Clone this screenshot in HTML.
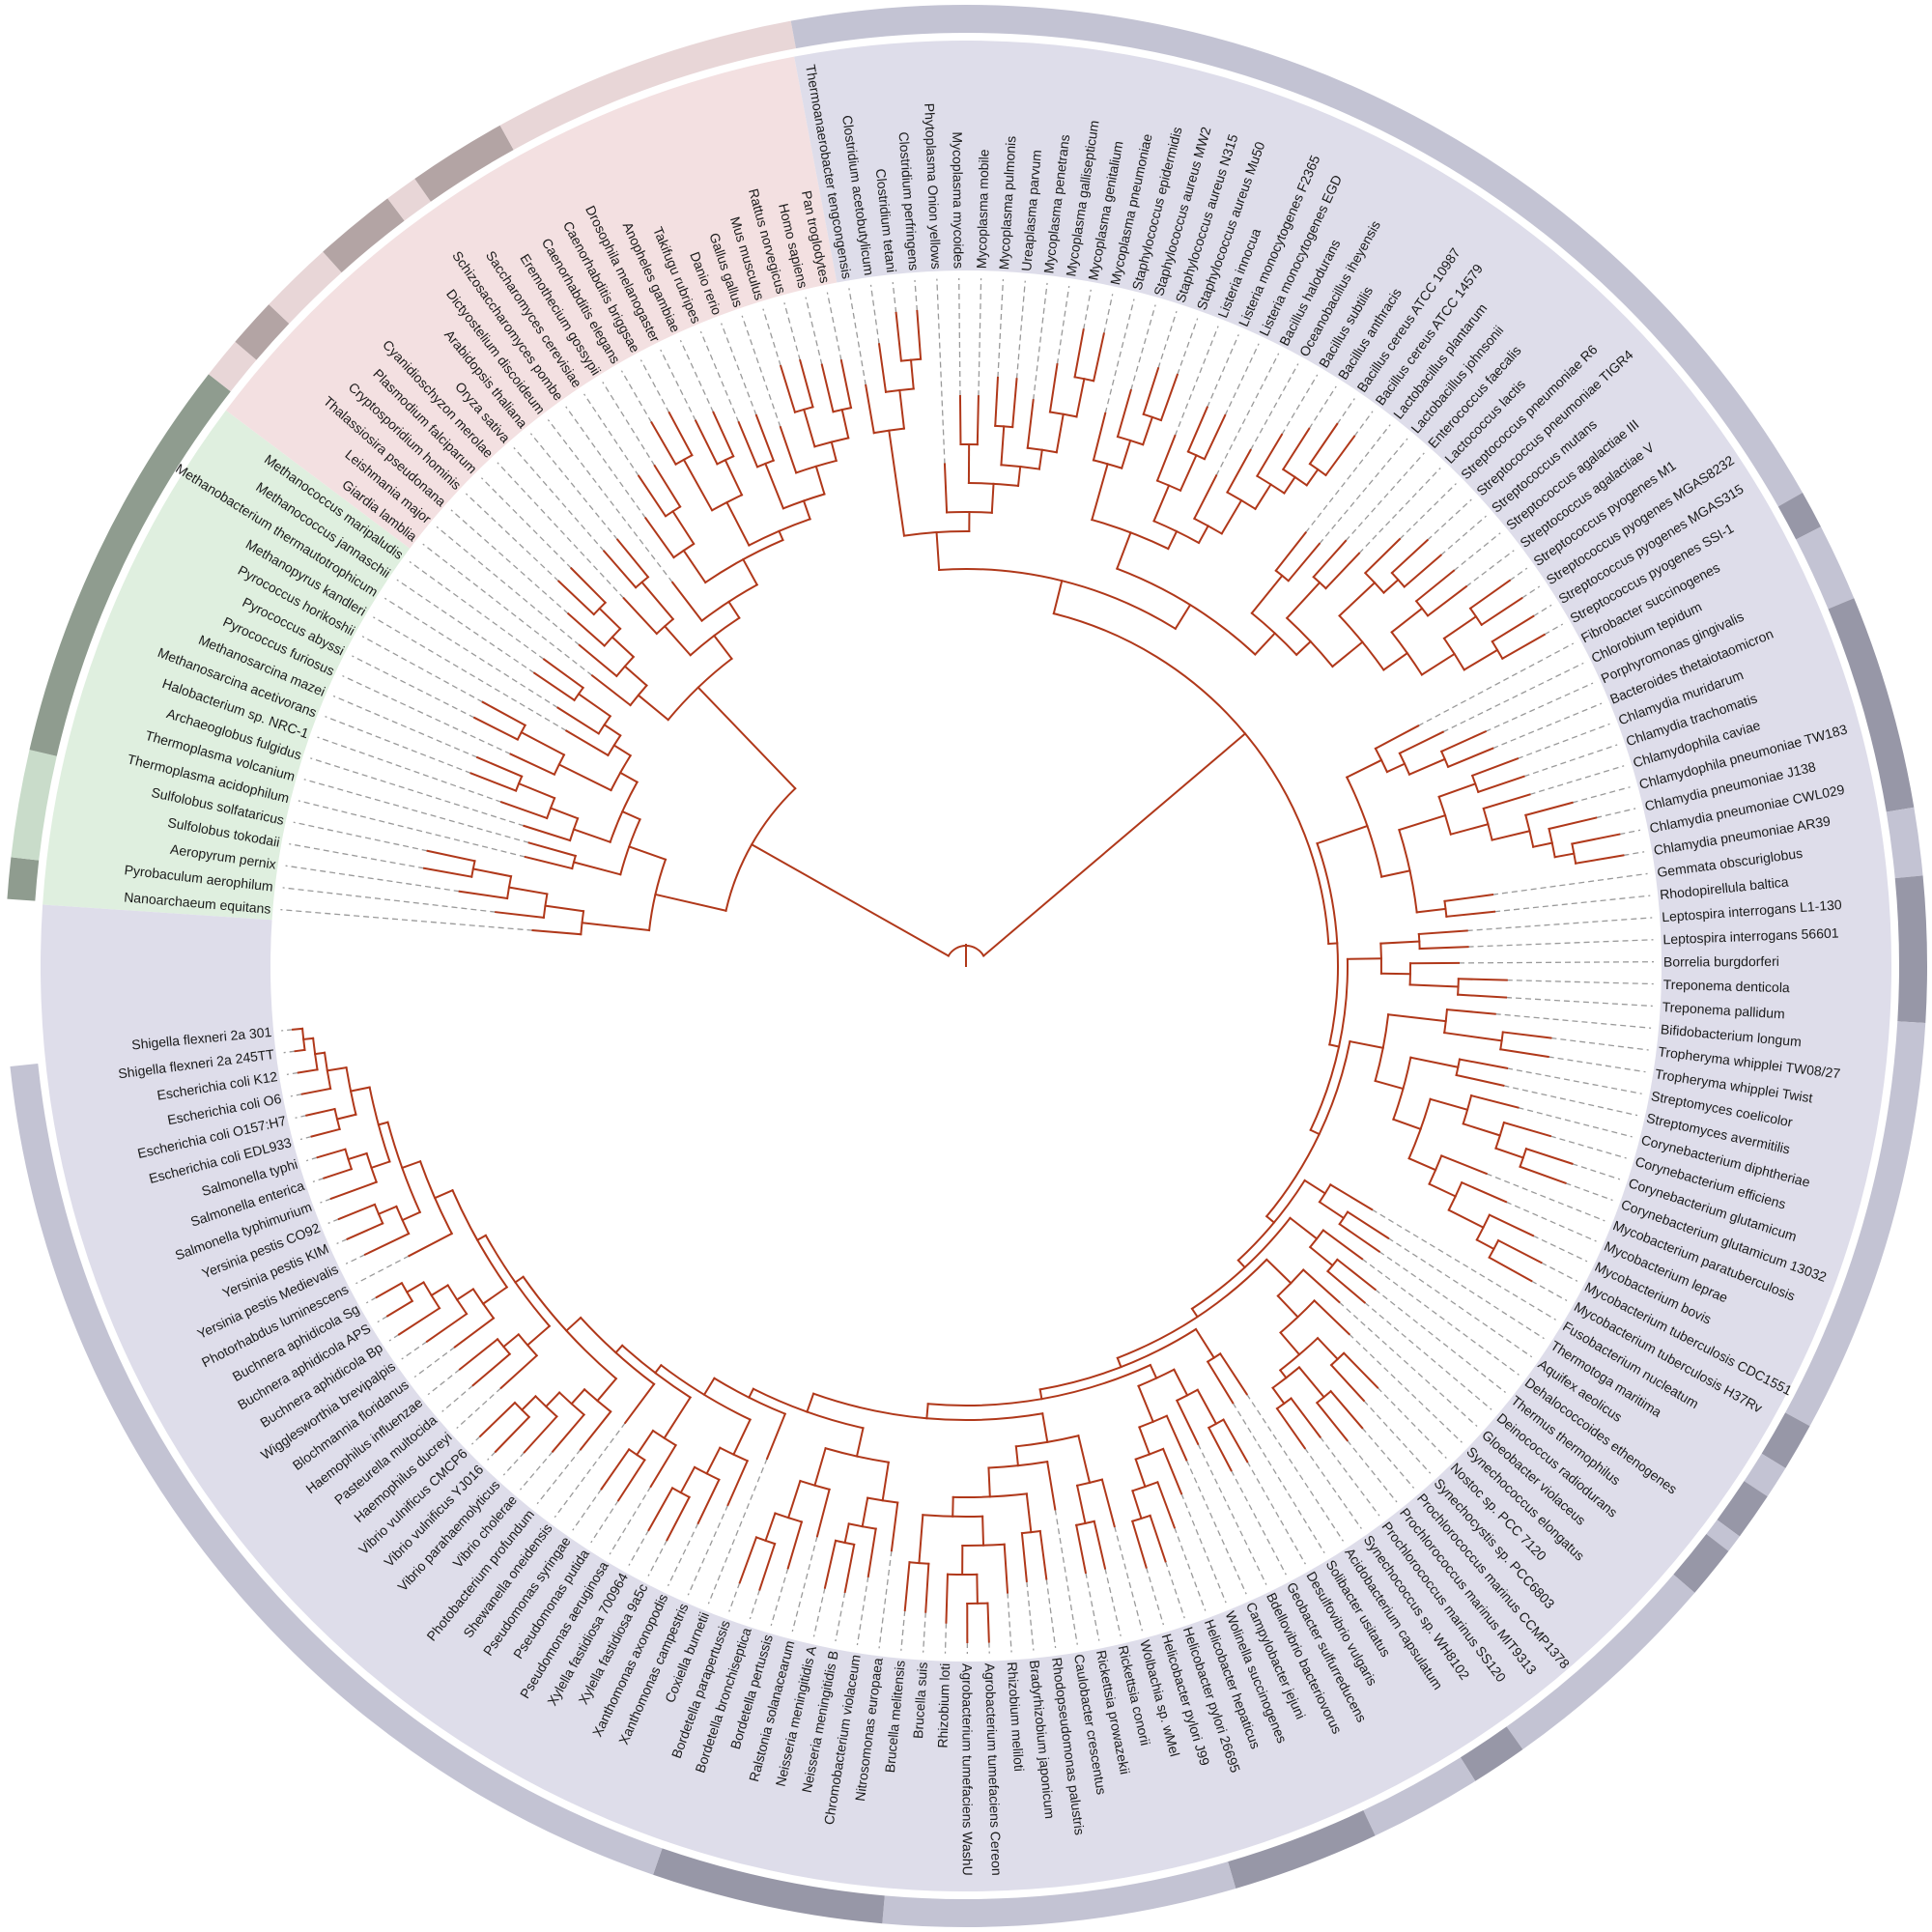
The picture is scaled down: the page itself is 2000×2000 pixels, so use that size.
<!DOCTYPE html>
<html><head><meta charset="utf-8">
<style>
html,body{margin:0;padding:0;background:#fff;}
svg{display:block;}
#labels text{font-family:"Liberation Sans",Arial,sans-serif;font-size:14px;fill:#1a1a1a;dominant-baseline:central;}
</style></head>
<body>
<svg id="s" width="2000" height="2000" viewBox="0 0 2000 2000" xmlns="http://www.w3.org/2000/svg">
<g id="wedges"></g>
<g id="ring"></g>
<g id="dash" stroke="#9a9a9a" stroke-width="1.3" stroke-dasharray="6,4" fill="none"></g>
<g id="tree" stroke="#b0381a" stroke-width="2" fill="none" stroke-linecap="square"></g>
<g id="labels" transform="translate(1000,1000)">
<text>Nanoarchaeum equitans</text>
<text>Pyrobaculum aerophilum</text>
<text>Aeropyrum pernix</text>
<text>Sulfolobus tokodaii</text>
<text>Sulfolobus solfataricus</text>
<text>Thermoplasma acidophilum</text>
<text>Thermoplasma volcanium</text>
<text>Archaeoglobus fulgidus</text>
<text>Halobacterium sp. NRC-1</text>
<text>Methanosarcina acetivorans</text>
<text>Methanosarcina mazei</text>
<text>Pyrococcus furiosus</text>
<text>Pyrococcus abyssi</text>
<text>Pyrococcus horikoshii</text>
<text>Methanopyrus kandleri</text>
<text>Methanobacterium thermautotrophicum</text>
<text>Methanococcus jannaschii</text>
<text>Methanococcus maripaludis</text>
<text>Giardia lamblia</text>
<text>Leishmania major</text>
<text>Thalassiosira pseudonana</text>
<text>Cryptosporidium hominis</text>
<text>Plasmodium falciparum</text>
<text>Cyanidioschyzon merolae</text>
<text>Oryza sativa</text>
<text>Arabidopsis thaliana</text>
<text>Dictyostelium discoideum</text>
<text>Schizosaccharomyces pombe</text>
<text>Saccharomyces cerevisiae</text>
<text>Eremothecium gossypii</text>
<text>Caenorhabditis elegans</text>
<text>Caenorhabditis briggsae</text>
<text>Drosophila melanogaster</text>
<text>Anopheles gambiae</text>
<text>Takifugu rubripes</text>
<text>Danio rerio</text>
<text>Gallus gallus</text>
<text>Mus musculus</text>
<text>Rattus norvegicus</text>
<text>Homo sapiens</text>
<text>Pan troglodytes</text>
<text>Thermoanaerobacter tengcongensis</text>
<text>Clostridium acetobutylicum</text>
<text>Clostridium tetani</text>
<text>Clostridium perfringens</text>
<text>Phytoplasma Onion yellows</text>
<text>Mycoplasma mycoides</text>
<text>Mycoplasma mobile</text>
<text>Mycoplasma pulmonis</text>
<text>Ureaplasma parvum</text>
<text>Mycoplasma penetrans</text>
<text>Mycoplasma gallisepticum</text>
<text>Mycoplasma genitalium</text>
<text>Mycoplasma pneumoniae</text>
<text>Staphylococcus epidermidis</text>
<text>Staphylococcus aureus MW2</text>
<text>Staphylococcus aureus N315</text>
<text>Staphylococcus aureus Mu50</text>
<text>Listeria innocua</text>
<text>Listeria monocytogenes F2365</text>
<text>Listeria monocytogenes EGD</text>
<text>Bacillus halodurans</text>
<text>Oceanobacillus iheyensis</text>
<text>Bacillus subtilis</text>
<text>Bacillus anthracis</text>
<text>Bacillus cereus ATCC 10987</text>
<text>Bacillus cereus ATCC 14579</text>
<text>Lactobacillus plantarum</text>
<text>Lactobacillus johnsonii</text>
<text>Enterococcus faecalis</text>
<text>Lactococcus lactis</text>
<text>Streptococcus pneumoniae R6</text>
<text>Streptococcus pneumoniae TIGR4</text>
<text>Streptococcus mutans</text>
<text>Streptococcus agalactiae III</text>
<text>Streptococcus agalactiae V</text>
<text>Streptococcus pyogenes M1</text>
<text>Streptococcus pyogenes MGAS8232</text>
<text>Streptococcus pyogenes MGAS315</text>
<text>Streptococcus pyogenes SSI-1</text>
<text>Fibrobacter succinogenes</text>
<text>Chlorobium tepidum</text>
<text>Porphyromonas gingivalis</text>
<text>Bacteroides thetaiotaomicron</text>
<text>Chlamydia muridarum</text>
<text>Chlamydia trachomatis</text>
<text>Chlamydophila caviae</text>
<text>Chlamydophila pneumoniae TW183</text>
<text>Chlamydia pneumoniae J138</text>
<text>Chlamydia pneumoniae CWL029</text>
<text>Chlamydia pneumoniae AR39</text>
<text>Gemmata obscuriglobus</text>
<text>Rhodopirellula baltica</text>
<text>Leptospira interrogans L1-130</text>
<text>Leptospira interrogans 56601</text>
<text>Borrelia burgdorferi</text>
<text>Treponema denticola</text>
<text>Treponema pallidum</text>
<text>Bifidobacterium longum</text>
<text>Tropheryma whipplei TW08/27</text>
<text>Tropheryma whipplei Twist</text>
<text>Streptomyces coelicolor</text>
<text>Streptomyces avermitilis</text>
<text>Corynebacterium diphtheriae</text>
<text>Corynebacterium efficiens</text>
<text>Corynebacterium glutamicum</text>
<text>Corynebacterium glutamicum 13032</text>
<text>Mycobacterium paratuberculosis</text>
<text>Mycobacterium leprae</text>
<text>Mycobacterium bovis</text>
<text>Mycobacterium tuberculosis CDC1551</text>
<text>Mycobacterium tuberculosis H37Rv</text>
<text>Fusobacterium nucleatum</text>
<text>Thermotoga maritima</text>
<text>Aquifex aeolicus</text>
<text>Dehalococcoides ethenogenes</text>
<text>Thermus thermophilus</text>
<text>Deinococcus radiodurans</text>
<text>Gloeobacter violaceus</text>
<text>Synechococcus elongatus</text>
<text>Nostoc sp. PCC 7120</text>
<text>Synechocystis sp. PCC6803</text>
<text>Prochlorococcus marinus CCMP1378</text>
<text>Prochlorococcus marinus MIT9313</text>
<text>Prochlorococcus marinus SS120</text>
<text>Synechococcus sp. WH8102</text>
<text>Acidobacterium capsulatum</text>
<text>Solibacter usitatus</text>
<text>Desulfovibrio vulgaris</text>
<text>Geobacter sulfurreducens</text>
<text>Bdellovibrio bacteriovorus</text>
<text>Campylobacter jejuni</text>
<text>Wolinella succinogenes</text>
<text>Helicobacter hepaticus</text>
<text>Helicobacter pylori 26695</text>
<text>Helicobacter pylori J99</text>
<text>Wolbachia sp. wMel</text>
<text>Rickettsia conorii</text>
<text>Rickettsia prowazekii</text>
<text>Caulobacter crescentus</text>
<text>Rhodopseudomonas palustris</text>
<text>Bradyrhizobium japonicum</text>
<text>Rhizobium meliloti</text>
<text>Agrobacterium tumefaciens Cereon</text>
<text>Agrobacterium tumefaciens WashU</text>
<text>Rhizobium loti</text>
<text>Brucella suis</text>
<text>Brucella melitensis</text>
<text>Nitrosomonas europaea</text>
<text>Chromobacterium violaceum</text>
<text>Neisseria meningitidis B</text>
<text>Neisseria meningitidis A</text>
<text>Ralstonia solanacearum</text>
<text>Bordetella pertussis</text>
<text>Bordetella bronchiseptica</text>
<text>Bordetella parapertussis</text>
<text>Coxiella burnetii</text>
<text>Xanthomonas campestris</text>
<text>Xanthomonas axonopodis</text>
<text>Xylella fastidiosa 9a5c</text>
<text>Xylella fastidiosa 700964</text>
<text>Pseudomonas aeruginosa</text>
<text>Pseudomonas putida</text>
<text>Pseudomonas syringae</text>
<text>Shewanella oneidensis</text>
<text>Photobacterium profundum</text>
<text>Vibrio cholerae</text>
<text>Vibrio parahaemolyticus</text>
<text>Vibrio vulnificus YJ016</text>
<text>Vibrio vulnificus CMCP6</text>
<text>Haemophilus ducreyi</text>
<text>Pasteurella multocida</text>
<text>Haemophilus influenzae</text>
<text>Blochmannia floridanus</text>
<text>Wigglesworthia brevipalpis</text>
<text>Buchnera aphidicola Bp</text>
<text>Buchnera aphidicola APS</text>
<text>Buchnera aphidicola Sg</text>
<text>Photorhabdus luminescens</text>
<text>Yersinia pestis Medievalis</text>
<text>Yersinia pestis KIM</text>
<text>Yersinia pestis CO92</text>
<text>Salmonella typhimurium</text>
<text>Salmonella enterica</text>
<text>Salmonella typhi</text>
<text>Escherichia coli EDL933</text>
<text>Escherichia coli O157:H7</text>
<text>Escherichia coli O6</text>
<text>Escherichia coli K12</text>
<text>Shigella flexneri 2a 245TT</text>
<text>Shigella flexneri 2a 301</text>
</g>
</svg>
<script>
(function(){
var cx=1000,cy=1000,NS="http://www.w3.org/2000/svg";
function P(r,a){var t=a*Math.PI/180;return [(cx+r*Math.cos(t)).toFixed(2),(cy+r*Math.sin(t)).toFixed(2)];}
function ang(i){return 184.7+(i-1)*1.8416;}
function add(g,tag,attrs){var e=document.createElementNS(NS,tag);for(var k in attrs)e.setAttribute(k,attrs[k]);document.getElementById(g).appendChild(e);return e;}
function sector(g,r1,r2,a1,a2,fill){
  var lg=(a2-a1)>180?1:0;
  var p1=P(r1,a1),p2=P(r2,a1),p3=P(r2,a2),p4=P(r1,a2);
  var d="M"+p1+"L"+p2+"A"+r2+" "+r2+" 0 "+lg+" 1 "+p3+"L"+p4+"A"+r1+" "+r1+" 0 "+lg+" 0 "+p1+"Z";
  add(g,"path",{d:d,fill:fill,stroke:"none"});
}
sector("wedges",720,958,183.8,216.9,"#dfefdf");
sector("wedges",720,958,216.9,259.3,"#f3e0e1");
sector("wedges",720,958,259.3,543.8,"#deddea");
var L="#c3c3d3",D="#9797a7",PL="#e8d6d7",PD="#b3a4a4",GL="#c9dcca",GD="#8f9c8f";
var segs=[[184,186.5,GD],[186.5,193,GL],[193,218,GD],[218,220.5,PL],[220.5,223.5,PD],[223.5,228,PL],[228,233,PD],[233,235,PL],[235,241,PD],[241,259.5,PL],
[259.5,330.5,L],[330.5,332.8,D],[332.8,337.5,L],[337.5,350.5,D],[350.5,354.6,L],[354.6,363.4,D],[363.4,388.6,L],[388.6,391.5,D],[391.5,393.5,L],[393.5,396.4,D],[396.4,397.5,L],[397.5,400.7,D],[400.7,414.6,L],[414.6,418,D],[418,424.8,L],[424.8,433.7,D],[433.7,455,L],[455,469,D],[469,534,L]];
segs.forEach(function(s){sector("ring",966,995,s[0],s[1],s[2]);});
function line(r1,r2,a){var p=P(r1,a),q=P(r2,a);add("tree","line",{x1:p[0],y1:p[1],x2:q[0],y2:q[1]});}
function dashed(r1,r2,a){var p=P(r1,a),q=P(r2,a);add("dash","line",{x1:p[0],y1:p[1],x2:q[0],y2:q[1]});}
function arc(r,a1,a2){var p=P(r,a1),q=P(r,a2);var lg=(a2-a1)>180?1:0;add("tree","path",{d:"M"+p+"A"+r+" "+r+" 0 "+lg+" 1 "+q});}
function lay(n,pr){
  if(typeof n==="number"){var a=ang(n);var tip=Math.min(pr+50,700);line(pr,tip,a);dashed(tip,712,a);return a;}
  var r=n[0];var as=[];for(var i=1;i<n.length;i++)as.push(lay(n[i],r));
  var a1=as[0],a2=as[as.length-1];arc(r,a1,a2);var a=(a1+a2)/2;if(pr!==null)line(pr,r,a);return a;
}
var Ar=[330,
 [400,1,[440,2,[480,3,[520,4,5]]]],
 [370,[420,6,7],[390,[430,8,[460,9,[500,10,11]]],[410,[470,12,[520,13,14]],[430,15,[450,16,[490,17,18]]]]]]
];
var E1=[440,19,[470,20,[500,21,[530,22,23]]]];
var E2=[470,24,[520,25,26]];
var Opis=[480,[520,28,[560,29,30]],[490,[540,[600,31,32],[580,33,34]],[510,[560,35,36],[540,37,[560,[600,38,39],[590,40,41]]]]]];
var Eu=[400,E1,[430,E2,[450,27,Opis]]];
var Clos=[560,42,[600,43,[630,44,45]]];
var Moll=[470,46,[500,[540,47,48],[520,[560,49,50],[540,51,[580,52,[620,53,54]]]]]];
var Staph=[540,55,[570,56,[600,57,58]]];
var Bac=[500,[540,59,[580,60,61]],[520,62,[560,63,[590,64,[610,65,[630,66,67]]]]]];
var Lact=[470,[520,68,69],[490,[540,70,71],[530,[580,72,[600,73,74]],[560,[600,75,76],[600,[640,77,78],[640,79,80]]]]]];
var Firm=[411,[450,Clos,Moll],[440,[480,Staph,Bac],Lact]];
var CFB=[440,[480,81,[500,82,[540,83,84]]],[470,[520,[560,85,86],[560,87,[600,88,[620,89,[640,90,91]]]]],[500,92,93]]];
var Spiro=[430,[470,94,95],[460,96,[510,97,98]]];
var Actino=[440,[500,99,[560,100,101]],[470,[520,102,103],[500,[540,104,[580,105,[610,106,107]]],[530,108,[560,109,[600,110,[620,111,112]]]]]]];
var Misc1=[440,113,[470,114,115]];
var Deino=[460,116,[490,117,118]];
var Cyano=[470,119,[500,120,[530,[560,121,122],[540,[580,123,124],[560,125,126]]]]];
var Acido=[480,127,128];
var Delta=[500,[540,129,130],131];
var Eps=[510,132,[540,133,[570,134,[600,135,136]]]];
var Alpha=[500,[550,137,[590,138,139]],[520,140,[550,[590,141,142],[570,[600,143,[630,[660,144,145],146]],[620,147,148]]]]];
var Beta=[520,[560,149,[590,150,[610,151,152]]],[560,153,[600,154,[630,155,156]]]];
var Ent=[600,179,[620,[640,180,[660,181,182]],[630,[650,183,[670,184,185]],[650,[670,186,187],[670,188,[680,189,[690,190,191]]]]]]];
var Gamma=[500,157,[520,[560,158,[590,159,[620,160,161]]],[530,[580,162,[610,163,164]],[540,165,[560,[590,166,[610,167,[630,168,[650,169,170]]]],[570,[600,171,[620,172,173]],[580,[610,174,[630,175,[650,176,[670,177,178]]]],Ent]]]]]]];
var Proteo=[455,[470,Delta,Eps],[470,Alpha,[490,Beta,Gamma]]];
var Rest=[385,CFB,[395,Spiro,[405,Actino,[415,Misc1,[425,Deino,[435,Cyano,[445,Acido,Proteo]]]]]]];
var A=[255,Ar,Eu];
var B=[376,Firm,Rest];
var aA=lay(A,null);
var aB=lay(B,null);
arc(21,210,330);
line(0,22,270);
var p=P(21,210),q=P(255,aA);add("tree","line",{x1:p[0],y1:p[1],x2:q[0],y2:q[1]});
p=P(21,330);q=P(376,aB);add("tree","line",{x1:p[0],y1:p[1],x2:q[0],y2:q[1]});
var ts=document.querySelectorAll("#labels text");
for(var k=0;k<ts.length;k++){
  var t=ts[k],a=ang(k+1),na=((a%360)+360)%360;
  if(na>90&&na<270){t.setAttribute("transform","rotate("+(a+180).toFixed(3)+")");t.setAttribute("x",-722);t.setAttribute("text-anchor","end");}
  else{t.setAttribute("transform","rotate("+a.toFixed(3)+")");t.setAttribute("x",722);t.setAttribute("text-anchor","start");}
}
})();
</script>
</body></html>
